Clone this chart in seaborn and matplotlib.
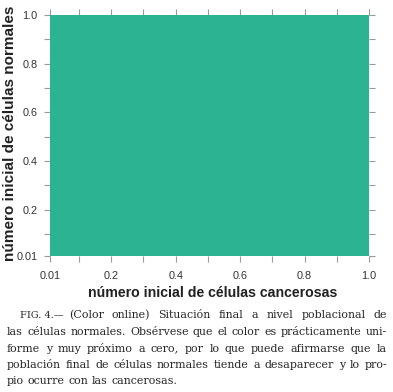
import numpy as np
import pandas as pd
import matplotlib as mpl
import matplotlib.pyplot as plt
import seaborn as sns
from matplotlib.colors import ListedColormap

# Data: final normal-cell population, practically zero everywhere
x_vals = [0.01, 0.1, 0.2, 0.3, 0.4, 0.5, 0.6, 0.7, 0.8, 0.9, 1.0]
y_vals = [0.01, 0.1, 0.2, 0.3, 0.4, 0.5, 0.6, 0.7, 0.8, 0.9, 1.0]
final_pop = [[0.0] * len(x_vals) for _ in y_vals]
tick_vals = [0.01, 0.2, 0.4, 0.6, 0.8, 1.0]
tick_labels = ["0.01", "0.2", "0.4", "0.6", "0.8", "1.0"]
minor_vals = [0.1, 0.3, 0.5, 0.7, 0.9]

xlabel = "número inicial de células cancerosas"
ylabel = "número inicial de células normales"
caption = [
    "(Color online) Situación final a nivel poblacional de",
    "las células normales. Obsérvese que el color es prácticamente uni-",
    "forme y muy próximo a cero, por lo que puede afirmarse que la",
    "población final de células normales tiende a desaparecer y lo pro-",
    "pio ocurre con las cancerosas.",
]

sns.set_style("white")
plt.rcParams['font.family'] = ['Liberation Sans', 'DejaVu Sans']

W, H = 393, 392
fig = plt.figure(figsize=(W/100, H/100), dpi=100)
ax = fig.add_axes([50/W, 1-256/H, 319/W, 241/H])

df = pd.DataFrame(final_pop, index=y_vals, columns=x_vals)
cmap = ListedColormap(["#2cb391"])
sns.heatmap(df, ax=ax, cmap=cmap, cbar=False, vmin=0, vmax=1,
            xticklabels=False, yticklabels=False)

n = len(x_vals)
def to_pos(v):
    return (v - 0.01) / 0.99 * n

ax.set_xticks([to_pos(v) for v in tick_vals])
ax.set_xticklabels(tick_labels)
ax.set_yticks([to_pos(v) for v in tick_vals])
ax.set_yticklabels(tick_labels, rotation=0)
ax.set_xticks([to_pos(v) for v in minor_vals], minor=True)
ax.set_yticks([to_pos(v) for v in minor_vals], minor=True)
ax.set_xlim(0, n)
ax.set_ylim(0, n)

ax.tick_params(which="both", direction="out", length=4, width=0.8,
               color="#999999", labelsize=7.8, labelcolor="#333333",
               top=True, right=True, bottom=True, left=True,
               labeltop=False, labelright=False, pad=5)
ax.tick_params(axis="x", pad=7)
for s in ax.spines.values():
    s.set_visible(False)

fig.canvas.draw()
renderer = fig.canvas.get_renderer()

def fit_size(txt, target, horizontal, **kw):
    # find a font size so the label spans target pixels
    t = fig.text(0, 0, txt, fontsize=10, **kw)
    ext = t.get_window_extent(renderer)
    size = ext.width if horizontal else ext.height
    t.remove()
    return 10 * target / size

fs_x = fit_size(xlabel, 249, True, fontweight="bold")
fs_y = fit_size(ylabel, 254, False, fontweight="bold", rotation=90)
fig.text(213/W, 1-293/H, xlabel, fontsize=fs_x, fontweight="bold",
         color="#222222", ha="center", va="center")
fig.text(10/W, 1-133/H, ylabel, fontsize=fs_y, fontweight="bold",
         color="#222222", ha="center", va="center", rotation=90)

# Caption, justified line by line
serif = "DejaVu Serif"
probe = fig.text(0, 0, caption[1], fontsize=10, family=serif)
fs = 10 * 376 / probe.get_window_extent(renderer).width
probe.remove()

def put_line(words, x0, x1, yb, justify):
    arts = [fig.text(0, 0, w, fontsize=fs, family=serif) for w in words]
    widths = [a.get_window_extent(renderer).width for a in arts]
    if justify and len(words) > 1:
        gap = (x1 - x0 - sum(widths)) / (len(words) - 1)
    else:
        gap = fs * 0.45
    x = x0
    for a, w in zip(arts, widths):
        a.set_position((x/W, 1 - yb/H))
        a.set_va("baseline")
        x += w + gap

head = fig.text(20/W, 1-318/H, "FIG. 4.—", fontsize=fs*0.88, family=serif,
                va="baseline")
hw = head.get_window_extent(renderer).width
put_line(caption[0].split(), 20 + hw + 5, 387, 318, True)
for i, line in enumerate(caption[1:]):
    put_line(line.split(), 7, 387, 335 + 16.5*i, i < 3)

fig.savefig("out.png", dpi=100)
